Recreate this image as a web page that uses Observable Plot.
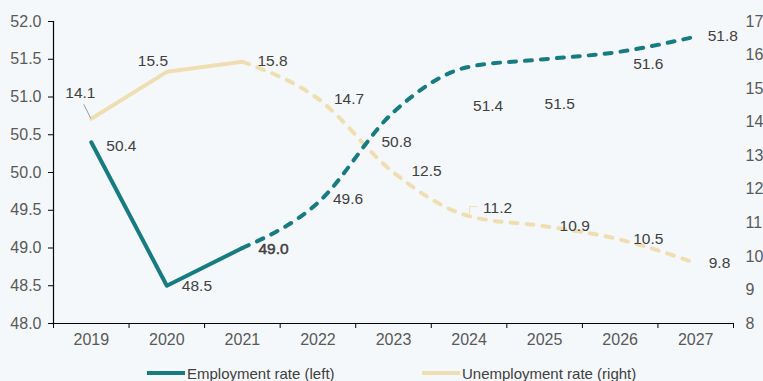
<!DOCTYPE html>
<html>
<head>
<meta charset="utf-8">
<script src="https://cdn.jsdelivr.net/npm/d3@7"></script>
<script src="https://cdn.jsdelivr.net/npm/@observablehq/plot@0.6"></script>
<style>
  html, body { margin: 0; padding: 0; background: #f5f8fa; }
  #wrap { position: relative; width: 763px; height: 381px; overflow: hidden; font-family: "Liberation Sans", Arial, sans-serif; }
  #legend { position: absolute; left: 0; top: 363px; width: 763px; height: 20px; }
  .item { position: absolute; top: 0; height: 20px; display: flex; align-items: center; font-size: 15px; color: #404040; white-space: nowrap; }
  .sw { width: 38px; height: 4px; margin-right: 2px; }
</style>
</head>
<body>
<div id="wrap"><div id="chart"></div><div id="legend"></div></div>
<script>
// ---- data ----
const years = [2019, 2020, 2021, 2022, 2023, 2024, 2025, 2026, 2027];
const employment = [50.4, 48.5, 49.0, 49.6, 50.8, 51.4, 51.5, 51.6, 51.8];
const unemployment = [14.1, 15.5, 15.8, 14.7, 12.5, 11.2, 10.9, 10.5, 9.8];
const leftTicks = [48.0, 48.5, 49.0, 49.5, 50.0, 50.5, 51.0, 51.5, 52.0];
const rightTicks = [8, 9, 10, 11, 12, 13, 14, 15, 16, 17];
const lastActualYear = 2021;
const seriesNames = ["Employment rate (left)", "Unemployment rate (right)"];

// ---- styling / layout ----
const teal = "#177b82";
const beige = "#f0deb3";
const leftDomain = [48, 52];
const rightDomain = [8, 17];
// label offsets [dx, dy] (layout only)
const empLabelOffsets = [[15,4],[15,0],[16,1],[15,-4],[-12,30],[4,39],[0,45],[13,12],[12,-1]];
const unLabelOffsets = [[-26,-26],[-29,-11],[15,-1],[16,0],[18,-1],[14,-8],[15,0],[13,-1],[13,0]];

const toLeft = u => leftDomain[0] + (u - rightDomain[0]) * (leftDomain[1] - leftDomain[0]) / (rightDomain[1] - rightDomain[0]);
const fromLeft = v => rightDomain[0] + (v - leftDomain[0]) * (rightDomain[1] - rightDomain[0]) / (leftDomain[1] - leftDomain[0]);

const emp = years.map((year, i) => ({year, value: employment[i], label: employment[i].toFixed(1)}));
const un = years.map((year, i) => ({year, value: toLeft(unemployment[i]), label: unemployment[i].toFixed(1)}));
const empSolid = emp.filter(d => d.year <= lastActualYear);
const empDash = emp.filter(d => d.year >= lastActualYear);
const unSolid = un.filter(d => d.year <= lastActualYear);
const unDash = un.filter(d => d.year >= lastActualYear);
const boundaries = [...years.map(y => y - 0.5), years[years.length - 1] + 0.5];

const labelMarks = (data, offsets, extra = () => ({})) => data.map((d, i) => Plot.text([d], {
  x: "year", y: "value", text: "label", dx: offsets[i][0], dy: offsets[i][1],
  textAnchor: "start", fontSize: 15.5, fill: "#404040", ...extra(d)
}));

// leader lines drawn through scales
function leader(point, ox, oy, color) {
  return (index, scales) => {
    const x = scales.x(point.year), y = scales.y(point.value);
    const g = d3.create("svg:g");
    g.append("path").attr("d", `M${x},${y}L${x + ox},${y + oy}`)
      .attr("stroke", color).attr("stroke-width", 1).attr("fill", "none");
    return g.node();
  };
}
function leaderElbow(point, color) {
  return (index, scales) => {
    const x = scales.x(point.year), y = scales.y(point.value);
    const g = d3.create("svg:g");
    g.append("path").attr("d", `M${x + 1},${y - 2}L${x + 1},${y - 9}L${x + 9},${y - 9}`)
      .attr("stroke", color).attr("stroke-width", 1).attr("fill", "none");
    return g.node();
  };
}

const chart = Plot.plot({
  width: 763,
  height: 355,
  marginLeft: 53,
  marginRight: 30,
  marginTop: 21,
  marginBottom: 32,
  style: {background: "transparent", fontFamily: "'Liberation Sans', Arial, sans-serif"},
  x: {type: "linear", domain: [boundaries[0], boundaries[boundaries.length - 1]]},
  y: {domain: leftDomain},
  marks: [
    Plot.axisX(boundaries, {tickSize: 5, tickFormat: () => "", stroke: "#000", label: null}),
    Plot.axisX(years, {tickSize: 0, tickPadding: 10, tickFormat: d => String(d), fontSize: 16, fill: "#595959", label: null}),
    Plot.axisY(leftTicks, {anchor: "left", tickSize: 5, tickPadding: 7, tickFormat: d => d.toFixed(1), fontSize: 16, fill: "#595959", stroke: "#000", label: null}),
    Plot.axisY(rightTicks.map(toLeft), {anchor: "right", tickSize: 0, tickPadding: 12, tickFormat: d => String(Math.round(fromLeft(d))), fontSize: 16, fill: "#595959", label: null}),
    Plot.ruleY([leftDomain[0]], {stroke: "#000", strokeWidth: 1.2}),
    Plot.ruleX([boundaries[0]], {y1: leftDomain[0], y2: leftDomain[1], stroke: "#000", strokeWidth: 1.2}),
    Plot.line(unSolid, {x: "year", y: "value", stroke: beige, strokeWidth: 4, strokeLinejoin: "round"}),
    Plot.line(unDash, {x: "year", y: "value", stroke: beige, strokeWidth: 4, strokeDasharray: "7,9", strokeLinecap: "round", curve: "monotone-x"}),
    Plot.line(empSolid, {x: "year", y: "value", stroke: teal, strokeWidth: 4, strokeLinejoin: "round"}),
    Plot.line(empDash, {x: "year", y: "value", stroke: teal, strokeWidth: 4, strokeDasharray: "7,9", strokeLinecap: "round", curve: "monotone-x"}),
    leader(un[0], -7, -14, "#9a9a9a"),
    leaderElbow(un[5], beige),
    ...labelMarks(emp, empLabelOffsets, d => d.year === lastActualYear ? {stroke: "#404040", strokeWidth: 0.5} : {}),
    ...labelMarks(un, unLabelOffsets)
  ]
});
document.getElementById("chart").appendChild(chart);

// legend
const legend = document.getElementById("legend");
const items = [{name: seriesNames[0], color: teal, left: 147}, {name: seriesNames[1], color: beige, left: 422}];
for (const it of items) {
  const div = document.createElement("div");
  div.className = "item";
  div.style.left = it.left + "px";
  const sw = document.createElement("span");
  sw.className = "sw";
  sw.style.background = it.color;
  div.appendChild(sw);
  div.appendChild(document.createTextNode(it.name));
  legend.appendChild(div);
}
</script>
</body>
</html>
